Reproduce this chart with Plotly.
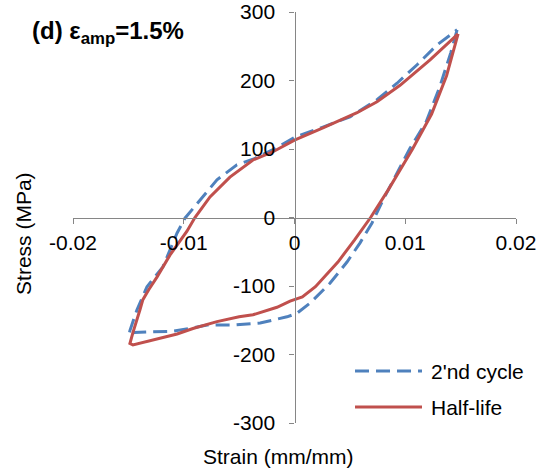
import plotly.graph_objects as go

# 2'nd cycle (blue dashed)
cyc2_strain = [0.01468, 0.0141, 0.0131, 0.0119, 0.01043, 0.0080, 0.0070, 0.00592, 0.00474, 0.0032, 0.0014, 0.0002,
               -0.00068, -0.0031, -0.00556, -0.0079, -0.00917, -0.011, -0.01305, -0.0145, -0.01495,
               -0.01486, -0.01423, -0.01332, -0.01188, -0.01061, -0.00989, -0.00827, -0.0070, -0.0052,
               -0.00375, -0.00194, 0.0, 0.00257, 0.00501, 0.00745, 0.00926, 0.01107, 0.01287, 0.01468]
cyc2_stress = [274, 240, 190, 140, 101, 26, -8, -37, -65, -96, -125, -140,
               -145, -154, -157, -157, -161, -166, -167, -168, -172,
               -165, -135, -101, -72, -23, -1, 30, 55, 77,
               85, 99, 117, 132, 147, 172, 196, 223, 252, 274]

# Half-life (red solid)
half_strain = [0.01477, 0.01373, 0.01238, 0.01062, 0.00845, 0.00687, 0.00541, 0.00392, 0.00189, 0.00071,
               -0.0004, -0.00158, -0.00375, -0.0050, -0.0070, -0.00917, -0.0106, -0.01188, -0.01369,
               -0.01459, -0.01486, -0.01459, -0.01396, -0.01369, -0.01315, -0.01242, -0.01125, -0.00971,
               -0.00899, -0.00763, -0.00583, -0.00375, -0.00194, 0.0, 0.00257, 0.00565, 0.00745, 0.00953,
               0.01224, 0.01477]
half_stress = [268, 207, 151, 99, 40, 0, -33, -65, -101, -116,
               -122, -131, -142, -145, -152, -162, -170, -175, -182,
               -186, -184, -168, -135, -120, -105, -87, -55, -20,
               0, 30, 59, 84, 96, 113, 131, 153, 169, 193,
               230, 268]

x_ticks = [-0.02, -0.01, 0, 0.01, 0.02]
x_labels = ["-0.02", "-0.01", "0", "0.01", "0.02"]
y_ticks = [-300, -200, -100, 0, 100, 200, 300]
y_labels = ["-300", "-200", "-100", "0", "100", "200", "300"]

series_names = ["2'nd cycle", "Half-life"]
blue = "#4F81BD"
red = "#C0504D"
FONT = "Liberation Sans, Arial, sans-serif"

fig = go.Figure()
fig.add_trace(go.Scatter(x=cyc2_strain, y=cyc2_stress, mode="lines", name=series_names[0],
                         line=dict(color=blue, width=3, dash="14px,7px"), showlegend=False))
fig.add_trace(go.Scatter(x=half_strain, y=half_stress, mode="lines", name=series_names[1],
                         line=dict(color=red, width=3), showlegend=False))

axis_common = dict(showgrid=False, zeroline=False, showline=True, linecolor="#868686", linewidth=1.3,
                   ticks="outside", ticklen=5, tickcolor="#868686", tickwidth=1.3, automargin=False,
                   tickfont=dict(family=FONT, size=21, color="black"), anchor="free", position=0.5)
fig.update_xaxes(range=[-0.02, 0.02], tickvals=x_ticks, ticktext=x_labels, ticklabelstandoff=1, **axis_common)
fig.update_yaxes(range=[-300, 300], tickvals=y_ticks, ticktext=y_labels, ticklabelstandoff=10, **axis_common)

# Manual legend
leg_y = [0.1265, 0.0389]
for name, col, dash, yy in [(series_names[0], blue, "14px,7px", leg_y[0]), (series_names[1], red, "solid", leg_y[1])]:
    fig.add_shape(type="line", xref="paper", yref="paper", x0=0.6366, x1=0.7878, y0=yy, y1=yy,
                  line=dict(color=col, width=3, dash=dash))
    fig.add_annotation(xref="paper", yref="paper", x=0.803, y=yy, xanchor="left", yanchor="middle",
                       text=name, showarrow=False, font=dict(family=FONT, size=21, color="black"))

# Title and axis titles
fig.add_annotation(xref="paper", yref="paper", x=-0.097, y=0.949, xanchor="left", yanchor="middle",
                   text="<b>(d) ε<sub>amp</sub>=1.5%</b>", showarrow=False,
                   font=dict(family=FONT, size=24, color="black"))
fig.add_annotation(xref="paper", yref="paper", x=-0.1106, y=0.46, xanchor="center", yanchor="middle",
                   text="Stress (MPa)", textangle=-90, showarrow=False,
                   font=dict(family=FONT, size=21, color="black"))
fig.add_annotation(xref="paper", yref="paper", x=0.465, y=-0.0827, xanchor="center", yanchor="middle",
                   text="Strain (mm/mm)", showarrow=False,
                   font=dict(family=FONT, size=21, color="black"))

fig.update_layout(width=542, height=470, margin=dict(l=73, r=26, t=12, b=47),
                  paper_bgcolor="white", plot_bgcolor="white", showlegend=False)

fig.write_html("out.html")
